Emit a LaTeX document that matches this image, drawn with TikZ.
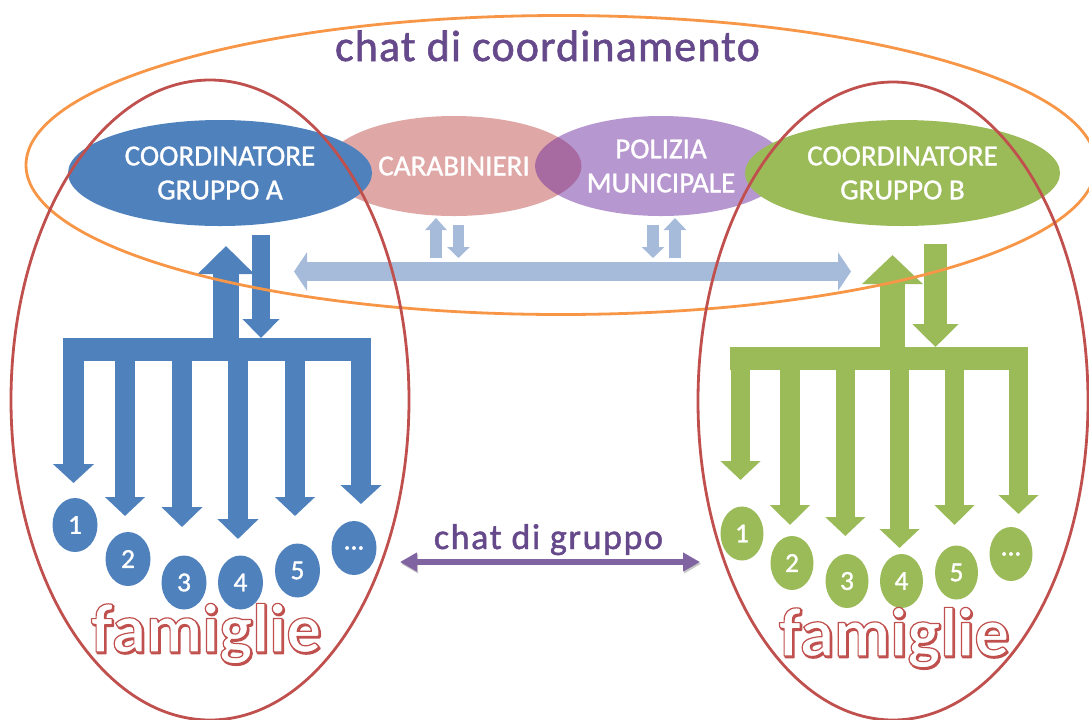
\documentclass[tikz,border=0pt]{standalone}
\usepackage{fontspec}
\setmainfont{Carlito}
\usetikzlibrary{shapes.geometric,arrows.meta}
\definecolor{cblue}{HTML}{4F81BD}
\definecolor{cgreen}{HTML}{9BBB59}
\definecolor{cred}{HTML}{C0504D}
\definecolor{corange}{HTML}{F79646}
\definecolor{clight}{HTML}{A6BBDA}
\definecolor{cpurple}{HTML}{8064A2}
\definecolor{ctext}{HTML}{65498A}
\definecolor{cpol}{HTML}{7030A0}
\newcommand{\strokedtext}[3]{\special{pdf:code 2 Tr #1 w 1 j 0.753 0.314 0.302 RG #2 rg}#3\special{pdf:code 0 Tr}}
\newcommand{\heavier}[1]{\special{pdf:code 2 Tr #1 w}}
\newcommand{\moredots}{...}
\tikzset{
  x=0.75pt,y=-0.75pt,
  oval/.style n args={2}{ellipse,inner sep=0pt,minimum width=#1*0.75pt,minimum height=#2*0.75pt},
  ring/.style={draw=cred,line width=2.1pt,fill=none},
  blockarrow/.style n args={3}{line width=#1*0.75pt,-{Triangle[length=#2*0.75pt,width=#3*0.75pt]}},
  twoway/.style n args={3}{line width=#1*0.75pt,{Triangle[length=#2*0.75pt,width=#3*0.75pt]}-{Triangle[length=#2*0.75pt,width=#3*0.75pt]}},
  famword/.style={anchor=base,inner sep=0pt,font=\fontsize{52}{60}\bfseries\selectfont},
  chatlabel/.style={anchor=base,inner sep=0pt,text=ctext},
  roletext/.style={text=white,align=center,font=\fontsize{21.8}{25.5}\selectfont\heavier{0.25}},
  numtext/.style={text=white,font=\fontsize{20.5}{24}\selectfont\heavier{0.25}},
}
\begin{document}
\begin{tikzpicture}
\clip (0,0) rectangle (1089,719);
% shared coordinator ovals
\node[oval={255}{100},fill=cred,fill opacity=.5,text opacity=1,roletext] (carab) at (454,166) {CARABINIERI};
\node[oval={252}{100},fill=cpol,fill opacity=.5,text opacity=1,roletext] (poliz) at (661,166) {POLIZIA\\MUNICIPALE};
\node[oval={304}{106},fill=cblue,roletext] (coordA) at (220,173) {COORDINATORE\\GRUPPO A};
\node[oval={315}{106},fill=cgreen,roletext] (coordB) at (902.5,173) {COORDINATORE\\GRUPPO B};
% small and long light arrows
\coordinate (busL) at (294,271.5); \coordinate (busR) at (851,271.5);
\draw[twoway={19}{13}{38},draw=clight,fill=clight] (busL) -- (busR);
\foreach \n/\xa/\ya/\xb/\yb/\w/\l/\h in {cu/436/258/436/218/12/12/21, cd/458.5/225/458.5/258/11/11/22, pd/653/225/653/258/12/11/22, pu/675/258/675/218/11.5/12/22}{
  \coordinate (\n s) at (\xa,\ya); \coordinate (\n t) at (\xb,\yb);
  \draw[blockarrow={\w}{\l}{\h},draw=clight,fill=clight] (\n s) -- (\n t);
}
% tree A
\node[fill=cblue,inner sep=0pt,minimum width=308*0.75pt,minimum height=23*0.75pt] (barA) at (217,349.5) {};
\coordinate (Aup1) at (226,345); \coordinate (Aup2) at (226,246);
\coordinate (Adn1) at (261,235); \coordinate (Adn2) at (261,338);
\draw[blockarrow={26}{28}{55},draw=cblue,fill=cblue] (Aup1) -- (Aup2);
\draw[blockarrow={18.5}{19}{36},draw=cblue,fill=cblue] (Adn1) -- (Adn2);
\foreach \n/\cx/\w/\l/\h/\tipy in {1/73.5/21/19/40/483, 2/125/20/19/39/516, 3/182/20/20/40/527, 4/238/20/20/40/539, 5/295/20/19/39/516, 6/361/20/19/40/504}{
  \coordinate (As\n) at (\cx,350); \coordinate (At\n) at (\cx,\tipy);
  \draw[blockarrow={\w}{\l}{\h},draw=cblue,fill=cblue] (As\n) -- (At\n);
}
\foreach \n/\cx/\cy/\t in {1/75/525/1, 2/128/559/2, 3/184/582.5/3, 4/240.5/582.5/4, 5/297.5/570.5/5, 6/354/548/\moredots}{
  \node[oval={45}{54},fill=cblue,numtext] (Afam\n) at (\cx,\cy) {\t};
}
% tree B
\node[fill=cgreen,inner sep=0pt,minimum width=298*0.75pt,minimum height=23*0.75pt] (barB) at (879,358) {};
\coordinate (Bup1) at (892.5,352); \coordinate (Bup2) at (892.5,255);
\coordinate (Bdn1) at (935.5,244); \coordinate (Bdn2) at (935.5,347);
\draw[blockarrow={25}{29}{59},draw=cgreen,fill=cgreen] (Bup1) -- (Bup2);
\draw[blockarrow={23}{23}{45},draw=cgreen,fill=cgreen] (Bdn1) -- (Bdn2);
\foreach \n/\cx/\tipy/\l in {1/740.5/480/19, 2/790/525/20, 3/845.3/536/19, 4/899.5/548/19, 5/954.5/525/20, 6/1018.5/514/19}{
  \coordinate (Bs\n) at (\cx,358); \coordinate (Bt\n) at (\cx,\tipy);
  \draw[blockarrow={19.5}{\l}{39},draw=cgreen,fill=cgreen] (Bs\n) -- (Bt\n);
}
\foreach \n/\cx/\cy/\t in {1/742/533.5/1, 2/792/563/2, 3/847/581/3, 4/901.5/581/4, 5/956.5/572.5/5, 6/1011/554/\moredots}{
  \node[oval={43}{54},fill=cgreen,numtext] (Bfam\n) at (\cx,\cy) {\t};
}
% group outlines
\node[oval={1070}{299},draw=corange,line width=2.1pt] (coordchat) at (561,165) {};
\node[oval={398}{640},ring] (groupA) at (210,400) {};
\node[oval={390}{638},ring] (groupB) at (893,401) {};
% labels
\node[chatlabel,font=\fontsize{33}{40}\selectfont\addfontfeature{LetterSpace=2.6}\heavier{0.45}] (titleC) at (547.5,61) {chat di coordinamento};
\node[chatlabel,font=\fontsize{27}{32}\selectfont\addfontfeature{LetterSpace=4.4}\heavier{0.35}] (titleG) at (548.5,549) {chat di gruppo};
\coordinate (chatL) at (400,562); \coordinate (chatR) at (700,562);
\draw[twoway={6.5}{17}{18},draw=cpurple,fill=cpurple,preaction={draw=black,opacity=.22,transform canvas={xshift=0.8pt,yshift=-1.4pt}}] (chatL) -- (chatR);
% famiglie
\node[famword] (famAs) at (207.2,653.5) {\strokedtext{1.2}{0.753 0.314 0.302}{famiglie}};
\node[famword] (famA) at (206,652) {\strokedtext{0.9}{1 1 1}{famiglie}};
\node[famword] (famBs) at (895.2,657.5) {\strokedtext{1.2}{0.753 0.314 0.302}{famiglie}};
\node[famword] (famB) at (894,656) {\strokedtext{0.9}{1 1 1}{famiglie}};
\end{tikzpicture}
\end{document}
